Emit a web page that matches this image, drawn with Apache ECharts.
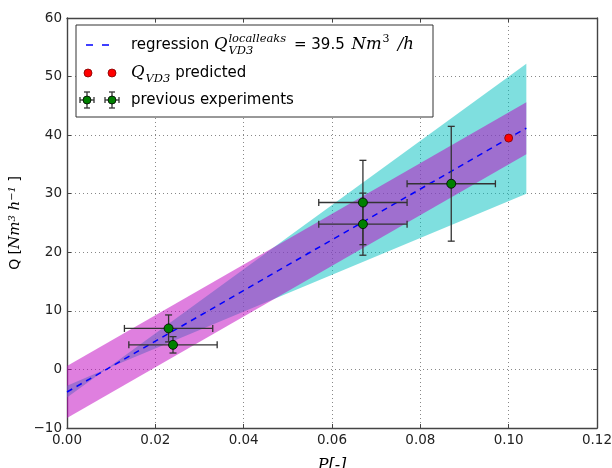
<!DOCTYPE html>
<html>
<head>
<meta charset="utf-8">
<script src="https://cdn.jsdelivr.net/npm/echarts@6/dist/echarts.min.js"></script>
<style>html,body{margin:0;padding:0;background:#fff}#c{width:612px;height:468px}</style>
</head>
<body>
<div id="c"></div>
<script>
// ---- data ----
const xTicks = [0, 0.02, 0.04, 0.06, 0.08, 0.10, 0.12];
const yTicks = [-10, 0, 10, 20, 30, 40, 50, 60];
const expP    = [0.023, 0.024, 0.067, 0.067, 0.087];
const expQ    = [7.0, 4.2, 28.5, 24.8, 31.7];
const expPerr = [0.01, 0.01, 0.01, 0.01, 0.01];
const expQerr = [2.3, 1.4, 7.2, 5.3, 9.8];
const predP = [0.100];
const predQ = [39.5];
const regP = [0, 0.104];
const regQ = [-3.85, 41.2];
const predBandP    = [0, 0.104];
const predBandLow  = [-8.3, 36.75];
const predBandHigh = [0.6, 45.6];
const confBandP    = [0, 0.009, 0.104];
const confBandLow  = [-4.8, 0.1, 30.0];
const confBandHigh = [-2.8, 0.1, 52.2];

const chart = echarts.init(document.getElementById('c'), null, {renderer: 'canvas'});

function bandSeries(P, lo, hi, color, z) {
  return {
    type: 'custom', z: z, silent: true,
    data: [[P[0], lo[0]]],
    renderItem: function (params, api) {
      const pts = [];
      for (let i = 0; i < P.length; i++) pts.push(api.coord([P[i], hi[i]]));
      for (let i = P.length - 1; i >= 0; i--) pts.push(api.coord([P[i], lo[i]]));
      return {type: 'polygon', shape: {points: pts}, style: {fill: color, opacity: 0.5, stroke: null}};
    }
  };
}

const ebColor = '#333';
const errSeries = {
  type: 'custom', z: 4, silent: true,
  data: expP.map((p, i) => [p, expQ[i], expPerr[i], expQerr[i]]),
  renderItem: function (params, api) {
    const x = api.value(0), y = api.value(1), xe = api.value(2), ye = api.value(3);
    const l = api.coord([x - xe, y]), r = api.coord([x + xe, y]);
    const t = api.coord([x, y + ye]), b = api.coord([x, y - ye]);
    const c = 3.5;
    const st = {stroke: ebColor, lineWidth: 1.3};
    const ln = (a, b2) => ({type: 'line', shape: {x1: a[0], y1: a[1], x2: b2[0], y2: b2[1]}, style: st});
    return {type: 'group', children: [
      ln(l, r), ln(t, b),
      ln([l[0], l[1] - c], [l[0], l[1] + c]), ln([r[0], r[1] - c], [r[0], r[1] + c]),
      ln([t[0] - c, t[1]], [t[0] + c, t[1]]), ln([b[0] - c, b[1]], [b[0] + c, b[1]])
    ]};
  }
};

// ---- legend (drawn by hand because of math text) ----
const cv = document.createElement('canvas').getContext('2d');
function tw(text, font) { cv.font = font; return cv.measureText(text).width; }
const SANS = '15px "DejaVu Sans"';
const MI = 'italic 16.5px "DejaVu Serif"';
const MS = 'italic 11.5px "DejaVu Serif"';
const MSn = '11px "DejaVu Serif"';
function T(text, x, y, font) {
  return {type: 'text', z: 101, x: x, y: y, silent: true,
    style: {text: text, font: font, fill: '#000', textAlign: 'left', textVerticalAlign: 'middle'}};
}
const legendEls = [];
legendEls.push({type: 'rect', z: 100, shape: {x: 76, y: 25, width: 357, height: 92},
  style: {fill: '#fff', stroke: '#333', lineWidth: 1}});
// row 1
let r1 = 45, x = 131;
legendEls.push({type: 'line', z: 101, shape: {x1: 86, y1: r1, x2: 111, y2: r1},
  style: {stroke: '#0000ff', lineWidth: 1.5, lineDash: [7, 9]}});
legendEls.push(T('regression ', x, r1, SANS)); x += tw('regression ', SANS);
legendEls.push(T('Q', x, r1, MI)); x += tw('Q', MI) + 1;
legendEls.push(T('localleaks', x, r1 - 6, MS));
legendEls.push(T('VD3', x, r1 + 6, MS));
x += Math.max(tw('localleaks', MS), tw('VD3', MS)) + 3;
legendEls.push(T(' = 39.5 ', x, r1, SANS)); x += tw(' = 39.5 ', SANS) + 2;
legendEls.push(T('Nm', x, r1, MI)); x += tw('Nm', MI) + 1;
legendEls.push(T('3', x, r1 - 6, MSn)); x += tw('3', MSn) + 3;
legendEls.push(T(' /h', x, r1, MI));
// row 2
let r2 = 73; x = 131;
[88, 112].forEach(cx => legendEls.push({type: 'circle', z: 101, shape: {cx: cx, cy: r2, r: 4},
  style: {fill: '#ff0000', stroke: '#800000', lineWidth: 0.8}}));
legendEls.push(T('Q', x, r2, MI)); x += tw('Q', MI) + 1;
legendEls.push(T('VD3', x, r2 + 6.5, MS)); x += tw('VD3', MS);
legendEls.push(T(' predicted', x, r2, SANS));
// row 3
let r3 = 100;
[87, 112].forEach(cx => {
  const st = {stroke: ebColor, lineWidth: 1.3};
  legendEls.push({type: 'line', z: 101, shape: {x1: cx - 7, y1: r3, x2: cx + 7, y2: r3}, style: st});
  legendEls.push({type: 'line', z: 101, shape: {x1: cx, y1: r3 - 8, x2: cx, y2: r3 + 8}, style: st});
  legendEls.push({type: 'line', z: 101, shape: {x1: cx - 7, y1: r3 - 3, x2: cx - 7, y2: r3 + 3}, style: st});
  legendEls.push({type: 'line', z: 101, shape: {x1: cx + 7, y1: r3 - 3, x2: cx + 7, y2: r3 + 3}, style: st});
  legendEls.push({type: 'line', z: 101, shape: {x1: cx - 3, y1: r3 - 8, x2: cx + 3, y2: r3 - 8}, style: st});
  legendEls.push({type: 'line', z: 101, shape: {x1: cx - 3, y1: r3 + 8, x2: cx + 3, y2: r3 + 8}, style: st});
  legendEls.push({type: 'circle', z: 102, shape: {cx: cx, cy: r3, r: 4},
    style: {fill: '#008000', stroke: '#000', lineWidth: 0.8}});
});
legendEls.push(T('previous experiments', 131, r3, SANS));

const axisLine = {show: true, onZero: false, lineStyle: {color: '#444', width: 1.4}};
const tick = {show: true, inside: true, length: 4, lineStyle: {color: '#444', width: 1}};
const labelFont = {color: '#222', fontFamily: 'DejaVu Sans', fontSize: 13.5};
const fmtY = v => v < 0 ? '\u2212' + (-v) : String(v);

const option = {
  animation: false,
  backgroundColor: '#fff',
  grid: {left: 67, right: 15, top: 18, bottom: 40, containLabel: false, outerBoundsMode: 'none'},
  xAxis: [{
    type: 'value', min: xTicks[0], max: xTicks[xTicks.length - 1], interval: 0.02,
    axisLine: axisLine, axisTick: tick,
    axisLabel: Object.assign({margin: 5, formatter: v => v.toFixed(2)}, labelFont),
    splitLine: {show: true, lineStyle: {color: '#888', type: [1, 3], width: 1}},
    name: 'P[-]', nameLocation: 'middle', nameGap: 30,
    nameTextStyle: {fontFamily: 'DejaVu Serif', fontStyle: 'italic', fontSize: 16, color: '#000'}
  }, {
    type: 'value', position: 'top', min: xTicks[0], max: xTicks[xTicks.length - 1], interval: 0.02,
    axisLine: axisLine, axisTick: tick, axisLabel: {show: false}, splitLine: {show: false}
  }],
  yAxis: [{
    type: 'value', min: yTicks[0], max: yTicks[yTicks.length - 1], interval: 10,
    axisLine: axisLine, axisTick: tick,
    axisLabel: Object.assign({margin: 5, formatter: fmtY}, labelFont),
    splitLine: {show: true, lineStyle: {color: '#888', type: [1, 3], width: 1}},
    name: '{a|Q [}{b|Nm}{s|3}{b| h}{s|\u22121}{a| ]}',
    nameLocation: 'middle', nameGap: 39, nameRotate: 90,
    nameTextStyle: {
      color: '#000',
      rich: {
        a: {fontFamily: 'DejaVu Sans', fontSize: 14, color: '#000', verticalAlign: 'middle'},
        b: {fontFamily: 'DejaVu Serif', fontStyle: 'italic', fontSize: 15, color: '#000', verticalAlign: 'middle'},
        s: {fontFamily: 'DejaVu Serif', fontStyle: 'italic', fontSize: 10, color: '#000', verticalAlign: 'top'}
      }
    }
  }, {
    type: 'value', position: 'right', min: yTicks[0], max: yTicks[yTicks.length - 1], interval: 10,
    axisLine: axisLine, axisTick: tick, axisLabel: {show: false}, splitLine: {show: false}
  }],
  series: [
    bandSeries(confBandP, confBandLow, confBandHigh, '#00bfbf', 1),
    bandSeries(predBandP, predBandLow, predBandHigh, '#bf00bf', 2),
    {type: 'line', z: 3, silent: true, symbol: 'none',
     data: regP.map((p, i) => [p, regQ[i]]),
     lineStyle: {color: '#0000ff', width: 1.5, type: [6, 5]}},
    errSeries,
    {type: 'scatter', z: 5, silent: true, symbolSize: 9,
     data: expP.map((p, i) => [p, expQ[i]]),
     itemStyle: {color: '#008000', borderColor: '#000', borderWidth: 0.8, opacity: 1}},
    {type: 'scatter', z: 5, silent: true, symbolSize: 8,
     data: predP.map((p, i) => [p, predQ[i]]),
     itemStyle: {color: '#ff0000', borderColor: '#800000', borderWidth: 0.8, opacity: 1}}
  ],
  graphic: {elements: legendEls}
};
chart.setOption(option);
</script>
</body>
</html>
